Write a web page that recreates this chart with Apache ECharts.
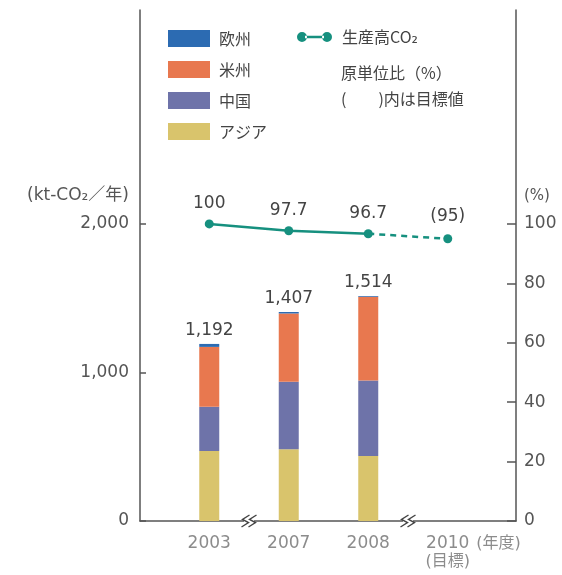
<!DOCTYPE html>
<html>
<head>
<meta charset="utf-8">
<script src="https://cdn.jsdelivr.net/npm/echarts@6/dist/echarts.min.js"></script>
<style>
  html, body { margin: 0; padding: 0; background: #fff; }
  #chart { width: 562px; height: 575px; }
</style>
</head>
<body>
<div id="chart"></div>
<script>
// Fiscal years on the horizontal axis (2010 is the target year)
const years = ['2003', '2007', '2008', '2010'];

// Emissions by region, kt-CO2 per year (stacked bars)
const europe   = [20, 10, 5];
const americas = [403, 459, 564];
const china    = [298, 455, 507];
const asia     = [471, 483, 438];

// CO2 intensity ratio, % (2003 = 100); 2010 is the target
const ratioActual = [100, 97.7, 96.7];
const ratioTarget = 95;

// Tick labels
const leftTicks  = [0, 1000, 2000];
const rightTicks = [0, 20, 40, 60, 80, 100];

const TEAL = '#16907f';
const AXIS = '#555';
const NUM_FONT = "'DejaVu Sans', 'Noto Sans CJK JP', sans-serif";
const JP_FONT = "'Noto Sans CJK JP', 'DejaVu Sans', sans-serif";

const totals = europe.map((_, i) => europe[i] + americas[i] + china[i] + asia[i]);
const fmt = v => v.toLocaleString('en-US');

// Both frames share the same vertical scales
const KT_MAX = 3440;
const PCT_MAX = 172;
// Unit captions sit just above the top labelled tick of each axis
const LEFT_UNIT_AT = 2190;
const RIGHT_UNIT_AT = 109.5;

const chart = echarts.init(document.getElementById('chart'));

const option = {
  animation: false,
  backgroundColor: '#fff',
  grid: [
    // outer frame: the two value axes and the baseline
    { left: 140, right: 46, top: 10, bottom: 54 },
    // inner band: one slot per fiscal year
    { left: 169.5, right: 74.5, top: 10, bottom: 54 }
  ],
  title: {
    text: '原単位比（%）\n(　　)内は目標値',
    left: 341, top: 60, padding: 0,
    textStyle: { fontFamily: JP_FONT, fontSize: 16, fontWeight: 'normal', color: '#444', lineHeight: 26 }
  },
  legend: [
    {
      orient: 'vertical', left: 168, top: 30, padding: 0,
      itemWidth: 42, itemHeight: 17, itemGap: 14,
      data: ['欧州', '米州', '中国', 'アジア'],
      icon: 'rect',
      textStyle: { fontFamily: JP_FONT, fontSize: 16, color: '#444', padding: [0, 0, 0, 4] }
    },
    {
      left: 297, top: 29, padding: 0,
      itemWidth: 35, itemHeight: 10,
      data: [{
        name: '生産高CO₂',
        icon: 'path://M0,5 A5,5 0 1,0 10,5 A5,5 0 1,0 0,5 Z M25,5 A5,5 0 1,0 35,5 A5,5 0 1,0 25,5 Z M8,3.8 L27,3.8 L27,6.2 L8,6.2 Z'
      }],
      textStyle: { fontFamily: JP_FONT, fontSize: 16, color: '#444', padding: [0, 0, 0, 5] }
    }
  ],
  xAxis: [
    {
      gridIndex: 0, type: 'value', min: 0, max: 1,
      splitLine: { show: false },
      axisLine: { show: true, onZero: false, lineStyle: { color: AXIS, width: 1.5 } },
      axisTick: { show: false },
      axisLabel: { show: false }
    },
    {
      gridIndex: 1, type: 'category', data: years, boundaryGap: true,
      axisLine: { show: false },
      axisTick: { show: false },
      axisLabel: {
        margin: 14,
        interval: 0,
        formatter: (v, i) => i === 3
          ? '{pad|}{y|' + v + '}{u|(年度)}\n{t|(目標)}'
          : '{y|' + v + '}',
        rich: {
          y: { fontFamily: NUM_FONT, fontSize: 17, color: '#8c8c8c' },
          pad: { width: 54 },
          u: { fontFamily: NUM_FONT, fontSize: 16, color: '#8c8c8c', width: 50, padding: [0, 0, 0, 4] },
          t: { fontFamily: NUM_FONT, fontSize: 16, color: '#8c8c8c', lineHeight: 20 }
        }
      }
    }
  ],
  yAxis: [
    {
      gridIndex: 0, type: 'value', min: 0, max: KT_MAX, position: 'left',
      splitLine: { show: false },
      axisLine: { show: true, onZero: false, lineStyle: { color: AXIS, width: 1.5 } },
      axisTick: { show: true, inside: true, length: 6, customValues: leftTicks, lineStyle: { color: AXIS, width: 1.5 } },
      axisLabel: {
        customValues: leftTicks.concat([LEFT_UNIT_AT]),
        margin: 11,
        fontFamily: NUM_FONT, fontSize: 17, color: AXIS,
        formatter: v => v === LEFT_UNIT_AT ? '{n|(kt-CO₂／年)}' : fmt(v),
        rich: { n: { fontFamily: NUM_FONT, fontSize: 17, color: AXIS } }
      }
    },
    {
      gridIndex: 0, type: 'value', min: 0, max: PCT_MAX, position: 'right',
      splitLine: { show: false },
      axisLine: { show: true, onZero: false, lineStyle: { color: AXIS, width: 1.5 } },
      axisTick: { show: true, inside: true, length: 9, customValues: rightTicks, lineStyle: { color: AXIS, width: 1.5 } },
      axisLabel: {
        customValues: rightTicks.concat([RIGHT_UNIT_AT]),
        margin: 8,
        fontFamily: NUM_FONT, fontSize: 17, color: AXIS,
        formatter: v => v === RIGHT_UNIT_AT ? '{n|(%)}' : String(v),
        rich: { n: { fontFamily: NUM_FONT, fontSize: 15, color: AXIS } }
      }
    },
    { gridIndex: 1, type: 'value', min: 0, max: KT_MAX, show: false },
    { gridIndex: 1, type: 'value', min: 0, max: PCT_MAX, show: false }
  ],
  series: [
    {
      name: 'アジア', type: 'bar', stack: 'region', barWidth: 20,
      xAxisIndex: 1, yAxisIndex: 2,
      itemStyle: { color: '#d9c46c' }, data: asia
    },
    {
      name: '中国', type: 'bar', stack: 'region', barWidth: 20,
      xAxisIndex: 1, yAxisIndex: 2,
      itemStyle: { color: '#6e73a9' }, data: china
    },
    {
      name: '米州', type: 'bar', stack: 'region', barWidth: 20,
      xAxisIndex: 1, yAxisIndex: 2,
      itemStyle: { color: '#e8784f' }, data: americas
    },
    {
      name: '欧州', type: 'bar', stack: 'region', barWidth: 20,
      xAxisIndex: 1, yAxisIndex: 2,
      itemStyle: { color: '#2c6bb2' }, data: europe,
      label: {
        show: true, position: 'top', distance: 5,
        fontFamily: NUM_FONT, fontSize: 17, color: '#444',
        formatter: p => fmt(totals[p.dataIndex])
      }
    },
    {
      name: '生産高CO₂', type: 'line', xAxisIndex: 1, yAxisIndex: 3,
      symbol: 'circle', symbolSize: 9, z: 5,
      itemStyle: { color: TEAL },
      lineStyle: { color: TEAL, width: 2.5 },
      data: ratioActual,
      label: {
        show: true, position: 'top', distance: 7,
        fontFamily: NUM_FONT, fontSize: 17, color: '#444',
        formatter: p => String(p.value)
      }
    },
    {
      name: '生産高CO₂', type: 'line', xAxisIndex: 1, yAxisIndex: 3,
      symbol: 'circle', symbolSize: 9, z: 4,
      itemStyle: { color: TEAL },
      lineStyle: { color: TEAL, width: 2.5, type: [6, 5] },
      data: [
        '-', '-',
        { value: ratioActual[2], symbol: 'none', label: { show: false } },
        { value: ratioTarget }
      ],
      label: {
        show: true, position: 'top', distance: 9,
        fontFamily: NUM_FONT, fontSize: 17, color: '#444',
        formatter: p => '(' + p.value + ')'
      }
    },
    {
      // axis-break marks between non-consecutive years
      type: 'custom', xAxisIndex: 1, yAxisIndex: 2,
      clip: false, silent: true, z: 6,
      data: [[0, 1], [2, 3]],
      renderItem: (params, api) => {
        const a = api.coord([api.value(0), 0]);
        const b = api.coord([api.value(1), 0]);
        const x = (a[0] + b[0]) / 2, y = a[1];
        const zig = d => ({
          type: 'polyline',
          shape: { points: [[x + d + 4, y - 6], [x + d - 3, y - 1.5], [x + d + 3, y + 1.5], [x + d - 4, y + 6]] },
          style: { stroke: '#444', lineWidth: 1.4, fill: null }
        });
        return {
          type: 'group',
          children: [
            { type: 'rect', shape: { x: x - 5, y: y - 2, width: 10, height: 4 }, style: { fill: '#fff' } },
            zig(-3.5), zig(3.5)
          ]
        };
      }
    }
  ]
};

chart.setOption(option);
</script>
</body>
</html>
